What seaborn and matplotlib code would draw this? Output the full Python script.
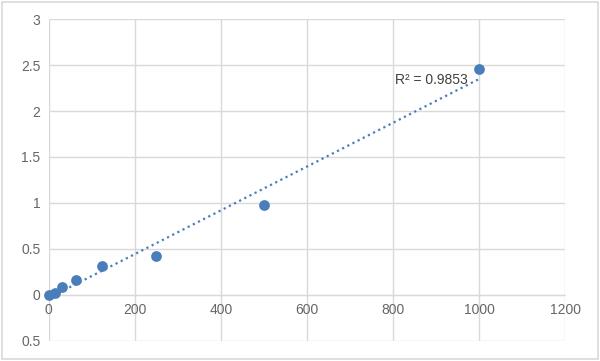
import matplotlib
matplotlib.use("Agg")
import matplotlib.pyplot as plt
import pandas as pd
import seaborn as sns
from matplotlib.patches import Rectangle

# 標準曲線のデータ
conc = [0, 15.6, 31.25, 62.5, 125, 250, 500, 1000]
od = [0.0, 0.025, 0.085, 0.165, 0.315, 0.425, 0.98, 2.46]
x_ticks = [0, 200, 400, 600, 800, 1000, 1200]
y_ticks = [-0.5, 0, 0.5, 1, 1.5, 2, 2.5, 3]
y_labels = ["0.5", "0", "0.5", "1", "1.5", "2", "2.5", "3"]
r2_text = "R² = 0.9853"

df = pd.DataFrame({"conc": conc, "od": od})

sns.set_style("white")
plt.rcParams['font.family'] = ['Liberation Sans', 'DejaVu Sans']

blue = "#4a7ebb"
grid = "#d9d9d9"

fig = plt.figure(figsize=(6, 3.61), dpi=100)
ax = fig.add_axes([0.081, 0.056, 0.861, 0.891])

# 近似直線
sns.regplot(data=df, x="conc", y="od", ax=ax, scatter=False, ci=None,
            line_kws=dict(color=blue, linestyle=(0, (1, 1.6)), linewidth=1.6))
sns.scatterplot(data=df, x="conc", y="od", ax=ax, color=blue, s=60,
                edgecolor=blue, linewidth=0, zorder=3, clip_on=False)

ax.set_xlim(0, 1200)
ax.set_ylim(-0.5, 3)
ax.set_xticks(x_ticks)
ax.set_yticks(y_ticks)
ax.set_yticklabels(y_labels)
ax.grid(True, color=grid, linewidth=1)
ax.set_axisbelow(True)
for s in ["top", "right", "left"]:
    ax.spines[s].set_visible(False)
ax.spines["bottom"].set_position(("data", 0))
ax.spines["bottom"].set_color(grid)
ax.tick_params(length=0, labelsize=10, labelcolor="#666666", pad=6)
ax.set_xlabel("")
ax.set_ylabel("")

ax.text(805, 2.34, r2_text, fontsize=10, color="#404040", va="center")

# 外枠
fig.patches.append(Rectangle((0.004, 0.006), 0.992, 0.988, transform=fig.transFigure,
                             fill=False, edgecolor=grid, linewidth=1.2))

fig.savefig("out.png", dpi=100)
